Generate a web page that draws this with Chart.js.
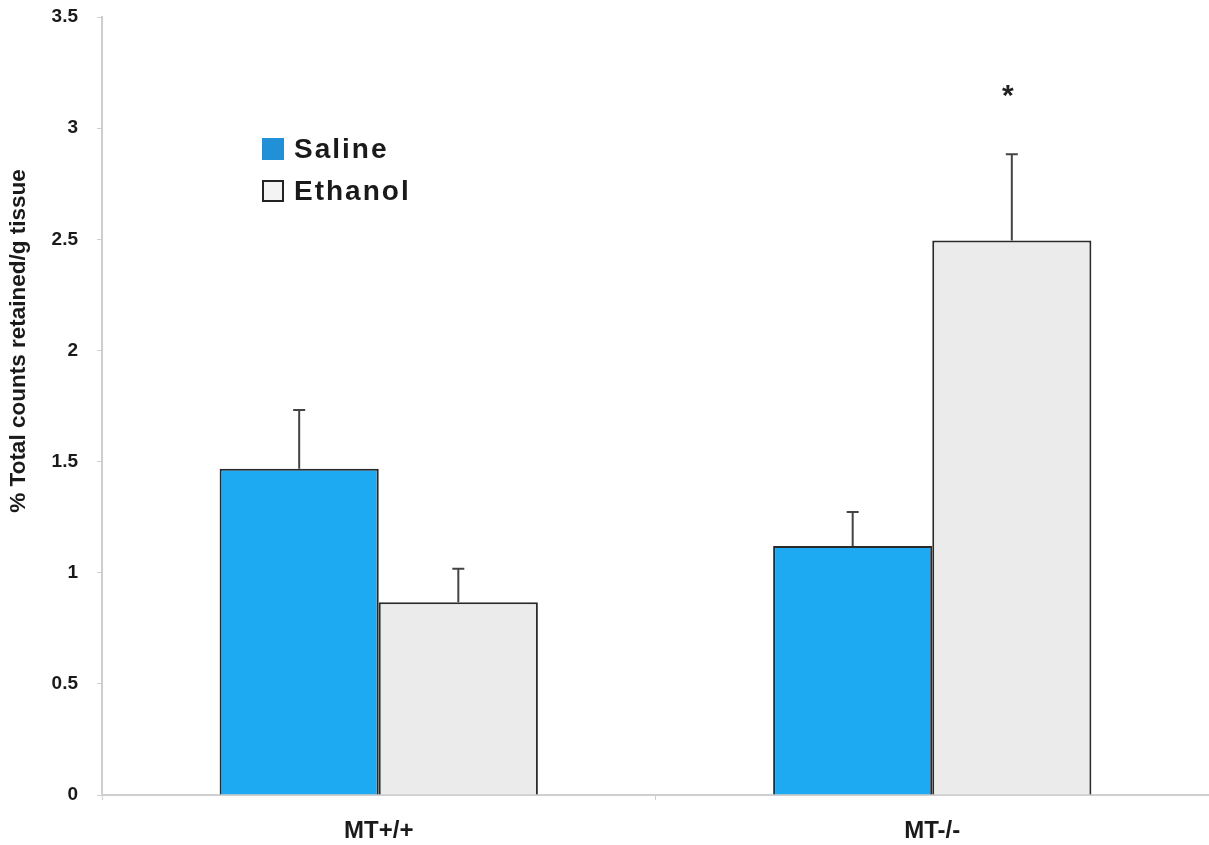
<!DOCTYPE html>
<html>
<head>
<meta charset="utf-8">
<script src="https://cdn.jsdelivr.net/npm/chart.js@4/dist/chart.umd.min.js"></script>
<style>
  html, body { margin: 0; padding: 0; background: #fff; }
  #wrap { width: 1209px; height: 845px; position: relative; }
</style>
</head>
<body>
<div id="wrap"><canvas id="myChart"></canvas></div>
<script>
const categories = ["MT+/+", "MT-/-"];
const salineValues = [1.468, 1.12];
const salineErrors = [0.264, 0.153];
const ethanolValues = [0.867, 2.495];
const ethanolErrors = [0.151, 0.387];
const yTicks = [0, 0.5, 1, 1.5, 2, 2.5, 3, 3.5];
const yTitle = "% Total counts retained/g tissue";
// significance mark: [dataset, category, value]
const starMark = [1, 1, 3.17];

const fontFamily = "'Liberation Sans', Arial, sans-serif";

// upward whiskers with a short cap
const errorBars = {
  id: "errorBars",
  afterDatasetsDraw(chart) {
    const ctx = chart.ctx;
    const yScale = chart.scales.y;
    ctx.save();
    ctx.strokeStyle = "#444";
    ctx.lineWidth = 2;
    chart.data.datasets.forEach((ds, i) => {
      const meta = chart.getDatasetMeta(i);
      meta.data.forEach((bar, j) => {
        const top = yScale.getPixelForValue(ds.data[j] + ds.errors[j]);
        ctx.beginPath();
        ctx.moveTo(bar.x, bar.y);
        ctx.lineTo(bar.x, top);
        ctx.moveTo(bar.x - 6, top);
        ctx.lineTo(bar.x + 6, top);
        ctx.stroke();
      });
    });
    // asterisk over the ethanol bar
    const bar = chart.getDatasetMeta(starMark[0]).data[starMark[1]];
    ctx.fillStyle = "#222";
    ctx.font = "bold 30px " + fontFamily;
    ctx.textAlign = "center";
    ctx.textBaseline = "middle";
    ctx.fillText("*", bar.x - 4, yScale.getPixelForValue(starMark[2]) + 6);
    ctx.restore();
  }
};

// legend box inside the plot and the rotated y title
const decorations = {
  id: "decorations",
  afterDraw(chart) {
    const ctx = chart.ctx;
    ctx.save();
    ctx.font = "bold 28px " + fontFamily;
    ctx.letterSpacing = "2px";
    ctx.textBaseline = "middle";
    ctx.textAlign = "left";
    chart.data.datasets.forEach((ds, i) => {
      const y = 149 + i * 42;
      ctx.fillStyle = ds.legendColor;
      ctx.fillRect(262, y - 11, 22, 22);
      ctx.strokeStyle = "#222";
      ctx.lineWidth = ds.legendBorder;
      if (ds.legendBorder) ctx.strokeRect(263, y - 10, 20, 20);
      ctx.fillStyle = "#1a1a1a";
      ctx.fillText(ds.label, 294, y + 1);
    });
    ctx.letterSpacing = "0px";
    ctx.translate(19, 341);
    ctx.rotate(-Math.PI / 2);
    ctx.textAlign = "center";
    ctx.font = "bold 22.5px " + fontFamily;
    ctx.fillStyle = "#1a1a1a";
    ctx.fillText(yTitle, 0, 0);
    ctx.restore();
  }
};

const ctx = document.getElementById("myChart");
new Chart(ctx, {
  type: "bar",
  data: {
    labels: categories,
    datasets: [
      {
        label: "Saline",
        data: salineValues,
        errors: salineErrors,
        backgroundColor: "#1eaaf2",
        borderColor: "#2a2a2a",
        borderWidth: 2,
        borderSkipped: "bottom",
        legendColor: "#2290d6",
        legendBorder: 0
      },
      {
        label: "Ethanol",
        data: ethanolValues,
        errors: ethanolErrors,
        backgroundColor: "#ebebeb",
        borderColor: "#2a2a2a",
        borderWidth: 2,
        borderSkipped: "bottom",
        legendColor: "#f3f3f3",
        legendBorder: 2
      }
    ]
  },
  options: {
    responsive: true,
    maintainAspectRatio: false,
    animation: false,
    layout: { padding: { top: 17, right: 0, left: 0, bottom: 0 } },
    datasets: { bar: { categoryPercentage: 0.575, barPercentage: 1 } },
    plugins: {
      legend: { display: false },
      tooltip: { enabled: false }
    },
    scales: {
      x: {
        afterFit: (scale) => { scale.height = 50; },
        border: { color: "#cfcfcf", width: 2 },
        grid: { drawOnChartArea: false, tickLength: 5, color: "#cfcfcf" },
        ticks: {
          color: "#1a1a1a",
          padding: 17,
          font: { family: fontFamily, size: 24, weight: "bold" }
        }
      },
      y: {
        min: 0,
        max: 3.5,
        afterFit: (scale) => {
          scale.width = 102;
          scale.paddingTop = 0;
          scale.paddingBottom = 0;
        },
        afterBuildTicks: (scale) => { scale.ticks = yTicks.map(v => ({ value: v })); },
        border: { color: "#cfcfcf", width: 2 },
        grid: { drawOnChartArea: false, tickLength: 5, color: "#cfcfcf" },
        ticks: {
          color: "#1a1a1a",
          padding: 19,
          font: { family: fontFamily, size: 19, weight: "bold" },
          callback: (v) => String(v)
        }
      }
    }
  },
  plugins: [errorBars, decorations]
});
</script>
</body>
</html>
